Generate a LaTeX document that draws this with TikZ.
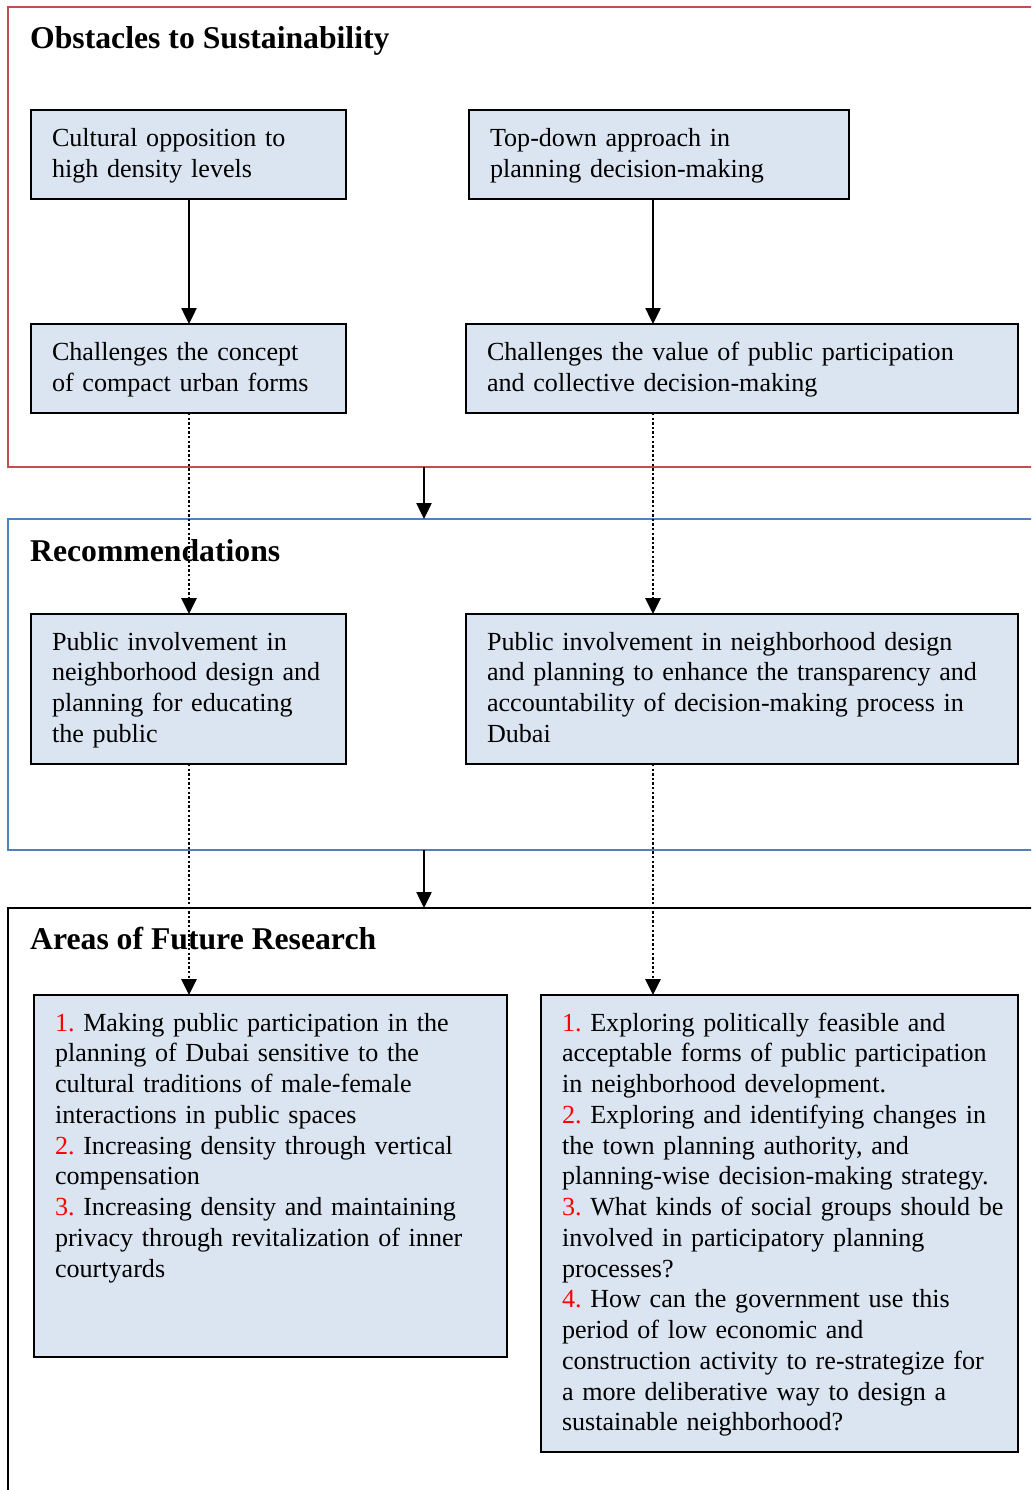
\documentclass[tikz,border=0pt]{standalone}
\usepackage{fontspec}
\setmainfont{Liberation Serif}
\usetikzlibrary{arrows.meta}

\definecolor{framered}{HTML}{C0504D}
\definecolor{frameblue}{HTML}{4F81BD}
\definecolor{boxfill}{HTML}{DBE5F1}
\definecolor{numred}{HTML}{FF0000}

\newcommand{\num}[1]{{\color{numred}#1}}
\frenchspacing

\begin{document}
\begin{tikzpicture}[x=1pt,y=-1pt,
  frame/.style={draw=#1, line width=2pt, anchor=north west, inner sep=0pt, outer sep=0pt},
  stepbox/.style={draw=black, fill=boxfill, line width=2pt, anchor=north west, inner sep=0pt, outer sep=0pt},
  boxtext/.style={anchor=base west, inner sep=0pt, outer sep=0pt, align=left,
    font=\fontsize{26.1}{30.75}\selectfont},
  heading/.style={anchor=base west, inner sep=0pt, font=\fontsize{31.7}{36}\selectfont\bfseries},
  flow/.style={line width=2.5pt, -{Triangle[length=16pt,width=15pt]}},
  link/.style={line width=2.8pt, dash pattern=on 2.4pt off 2.2pt, -{Triangle[length=16pt,width=15pt]}}
]
\useasboundingbox (0,0) rectangle (1031,1490);
\clip (0,0) rectangle (1031,1490);

% section frames (open to the right and below)
\node[frame=framered,  minimum width=1040pt, minimum height=460pt] (obst) at (8,7) {};
\node[frame=frameblue, minimum width=1040pt, minimum height=331pt] (reco) at (8,519) {};
\node[frame=black,     minimum width=1040pt, minimum height=600pt] (futr) at (8,908) {};

% section headings
\node[heading] (hobst) at (30,49)  {Obstacles to Sustainability};
\node[heading] (hreco) at (30,561) {Recommendations};
\node[heading] (hfutr) at (30,949) {Areas of Future Research};

% boxes
\node[stepbox, minimum width=315pt, minimum height=89pt]  (A) at (31,110)  {};
\node[stepbox, minimum width=380pt, minimum height=89pt]  (B) at (469,110) {};
\node[stepbox, minimum width=315pt, minimum height=89pt]  (C) at (31,324)  {};
\node[stepbox, minimum width=552pt, minimum height=89pt]  (D) at (466,324) {};
\node[stepbox, minimum width=315pt, minimum height=150pt] (E) at (31,614)  {};
\node[stepbox, minimum width=552pt, minimum height=150pt] (F) at (466,614) {};
\node[stepbox, minimum width=473pt, minimum height=362pt] (G) at (34,995)  {};
\node[stepbox, minimum width=477pt, minimum height=457pt] (H) at (541,995) {};

% box texts
\node[boxtext, text width=300pt] (tA) at ([xshift=21pt,yshift=-36.5pt]A.north west)
  {Cultural opposition to\\high density levels};
\node[boxtext, text width=360pt] (tB) at ([xshift=21pt,yshift=-36.5pt]B.north west)
  {Top-down approach in\\planning decision-making};
\node[boxtext, text width=300pt] (tC) at ([xshift=21pt,yshift=-36.5pt]C.north west)
  {Challenges the concept\\of compact urban forms};
\node[boxtext, text width=530pt] (tD) at ([xshift=21pt,yshift=-36.5pt]D.north west)
  {Challenges the value of public participation\\and collective decision-making};
\node[boxtext, text width=300pt] (tE) at ([xshift=21pt,yshift=-36pt]E.north west)
  {Public involvement in\\neighborhood design and\\planning for educating\\the public};
\node[boxtext, text width=530pt] (tF) at ([xshift=21pt,yshift=-36pt]F.north west)
  {Public involvement in neighborhood design\\and planning to enhance the transparency and\\accountability of decision-making process in\\Dubai};
\node[boxtext, text width=460pt] (tG) at ([xshift=21pt,yshift=-36pt]G.north west)
  {\num{1.} Making public participation in the\\
   planning of Dubai sensitive to the\\
   cultural traditions of male-female\\
   interactions in public spaces\\
   \num{2.} Increasing density through vertical\\
   compensation\\
   \num{3.} Increasing density and maintaining\\
   privacy through revitalization of inner\\
   courtyards};
\node[boxtext, text width=465pt] (tH) at ([xshift=21pt,yshift=-36pt]H.north west)
  {\num{1.} Exploring politically feasible and\\
   acceptable forms of public participation\\
   in neighborhood development.\\
   \num{2.} Exploring and identifying changes in\\
   the town planning authority, and\\
   planning-wise decision-making strategy.\\
   \num{3.} What kinds of social groups should be\\
   involved in participatory planning\\
   processes?\\
   \num{4.} How can the government use this\\
   period of low economic and\\
   construction activity to re-strategize for\\
   a more deliberative way to design a\\
   sustainable neighborhood?};

% connector columns
\coordinate (lcol) at (189,0);
\coordinate (rcol) at (653,0);
\coordinate (mcol) at (424,0);

% dotted links between the stages
\draw[link] (C.south -| lcol) -- (E.north -| lcol);
\draw[link] (D.south -| rcol) -- (F.north -| rcol);
\draw[link] (E.south -| lcol) -- (G.north -| lcol);
\draw[link] (F.south -| rcol) -- (H.north -| rcol);

% solid arrows
\draw[flow] (A.south -| lcol) -- (C.north -| lcol);
\draw[flow] (B.south -| rcol) -- (D.north -| rcol);
\draw[flow] (obst.south -| mcol) -- (reco.north -| mcol);
\draw[flow] (reco.south -| mcol) -- (futr.north -| mcol);
\end{tikzpicture}
\end{document}
